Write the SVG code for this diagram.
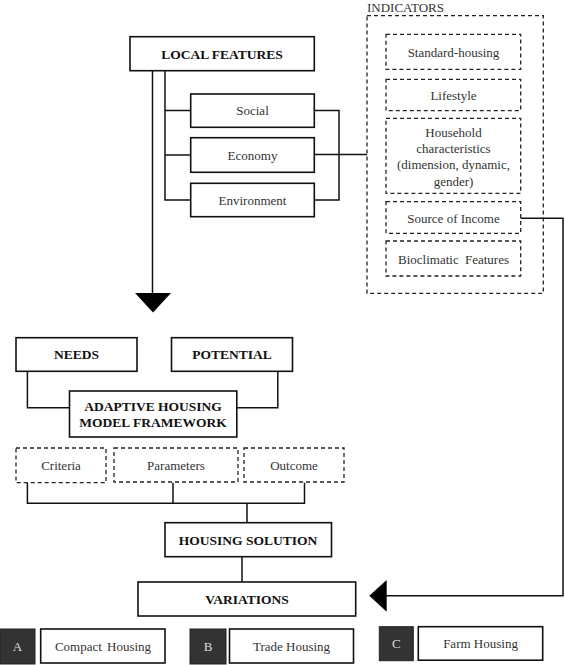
<svg xmlns="http://www.w3.org/2000/svg" width="565" height="665" viewBox="0 0 565 665">
<style>
.box{fill:#fff;stroke:#111;stroke-width:1.6}
.dbox{fill:none;stroke:#222;stroke-width:1.3;stroke-dasharray:4 3}
.dark{fill:#333;stroke:#222;stroke-width:1}
.ln{fill:none;stroke:#111;stroke-width:1.5}
.b{font-family:"Liberation Serif","Times New Roman",serif;font-weight:bold;font-size:13.5px;fill:#111;text-anchor:middle}
.t{font-family:"Liberation Serif","Times New Roman",serif;font-size:13px;fill:#333;text-anchor:middle}
.w{font-family:"Liberation Serif","Times New Roman",serif;font-size:13px;fill:#ddd;text-anchor:middle}
</style>
<g id="connectors">
<polyline class="ln" points="152.5,71 152.5,294"/>
<polygon points="135,293 171,293 153,312.5" fill="#000"/>
<polyline class="ln" points="165,71 165,200 190.7,200"/>
<line class="ln" x1="165" y1="110.5" x2="190.7" y2="110.5"/>
<line class="ln" x1="165" y1="155" x2="190.7" y2="155"/>
<polyline class="ln" points="314.3,110.5 339,110.5 339,200 314.3,200"/>
<line class="ln" x1="314.3" y1="154.5" x2="367" y2="154.5"/>
<polyline class="ln" points="520.7,218.3 563,218.3 563,595.7 386,595.7"/>
<polygon points="369.3,595.7 386.7,580 386.7,611.7" fill="#000"/>
<polyline class="ln" points="27.4,371.3 27.4,407.7 69.5,407.7"/>
<polyline class="ln" points="277.8,371.3 277.8,407.7 236.8,407.7"/>
<polyline class="ln" points="27.4,482.7 27.4,503.3 304.5,503.3 304.5,482.7"/>
<line class="ln" x1="173" y1="482.7" x2="173" y2="503.3"/>
<line class="ln" x1="247" y1="503.3" x2="247" y2="522.7"/>
<line class="ln" x1="242" y1="556.7" x2="242" y2="582"/>
</g>
<g id="local-features"><rect class="box" x="130" y="36.7" width="184.3" height="34"/><text class="b" x="222" y="58.5">LOCAL FEATURES</text></g>
<g id="social"><rect class="box" x="190.7" y="94" width="123.6" height="33.3"/><text class="t" x="252.5" y="115">Social</text></g>
<g id="economy"><rect class="box" x="190.7" y="137.7" width="123.6" height="34.6"/><text class="t" x="252.5" y="159.5">Economy</text></g>
<g id="environment"><rect class="box" x="190.7" y="183.3" width="123.6" height="33.4"/><text class="t" x="252.5" y="204.5">Environment</text></g>
<g id="indicators">
<text class="t" x="405.5" y="11.5">INDICATORS</text>
<rect class="dbox" x="367" y="15.7" width="176.3" height="277.6"/>
</g>
<g id="standard-housing"><rect class="dbox" x="386" y="34.3" width="134.7" height="35"/><text class="t" x="453.5" y="56.5">Standard-housing</text></g>
<g id="lifestyle"><rect class="dbox" x="386" y="79.3" width="134.7" height="31.4"/><text class="t" x="453.5" y="99.5">Lifestyle</text></g>
<g id="household"><rect class="dbox" x="386" y="118.3" width="134.7" height="75"/>
<text class="t" x="453.5" y="137">Household</text>
<text class="t" x="453.5" y="152.5">characteristics</text>
<text class="t" x="453.5" y="169">(dimension, dynamic,</text>
<text class="t" x="453.5" y="185.5">gender)</text></g>
<g id="source-of-income"><rect class="dbox" x="386" y="201.7" width="134.7" height="31.6"/><text class="t" x="453.5" y="222.8">Source of Income</text></g>
<g id="bioclimatic"><rect class="dbox" x="386" y="241" width="134.7" height="35"/><text class="t" x="453.5" y="264" word-spacing="3">Bioclimatic Features</text></g>
<g id="needs"><rect class="box" x="16" y="337.7" width="121" height="33.6"/><text class="b" x="76.5" y="359">NEEDS</text></g>
<g id="potential"><rect class="box" x="171.5" y="337.7" width="121" height="33.6"/><text class="b" x="232" y="359">POTENTIAL</text></g>
<g id="adaptive"><rect class="box" x="69.5" y="391" width="167.3" height="46"/>
<text class="b" x="153" y="411">ADAPTIVE HOUSING</text>
<text class="b" x="153" y="426.5">MODEL FRAMEWORK</text></g>
<g id="criteria"><rect class="dbox" x="16" y="448" width="90" height="34.7"/><text class="t" x="61" y="469.5">Criteria</text></g>
<g id="parameters"><rect class="dbox" x="114" y="448" width="124" height="34"/><text class="t" x="176" y="469.5">Parameters</text></g>
<g id="outcome"><rect class="dbox" x="244" y="448" width="100" height="34"/><text class="t" x="294" y="469.5">Outcome</text></g>
<g id="housing-solution"><rect class="box" x="165" y="522.7" width="166.5" height="34"/><text class="b" x="248" y="544.5">HOUSING SOLUTION</text></g>
<g id="variations"><rect class="box" x="138" y="582" width="217.7" height="34"/><text class="b" x="247" y="604">VARIATIONS</text></g>
<g id="legend-a"><rect class="dark" x="0" y="629" width="35" height="35"/><text class="w" x="17.5" y="651">A</text>
<rect class="box" x="40.7" y="629" width="124.3" height="34"/><text class="t" x="103" y="651" word-spacing="2">Compact Housing</text></g>
<g id="legend-b"><rect class="dark" x="190" y="629" width="36" height="35"/><text class="w" x="208" y="651">B</text>
<rect class="box" x="229.5" y="629" width="124" height="34"/><text class="t" x="291.5" y="651">Trade Housing</text></g>
<g id="legend-c"><rect class="dark" x="379.3" y="626.7" width="34" height="34"/><text class="w" x="396.3" y="648">C</text>
<rect class="box" x="418.3" y="626.7" width="124.4" height="33.5"/><text class="t" x="480.5" y="648">Farm Housing</text></g>
</svg>
